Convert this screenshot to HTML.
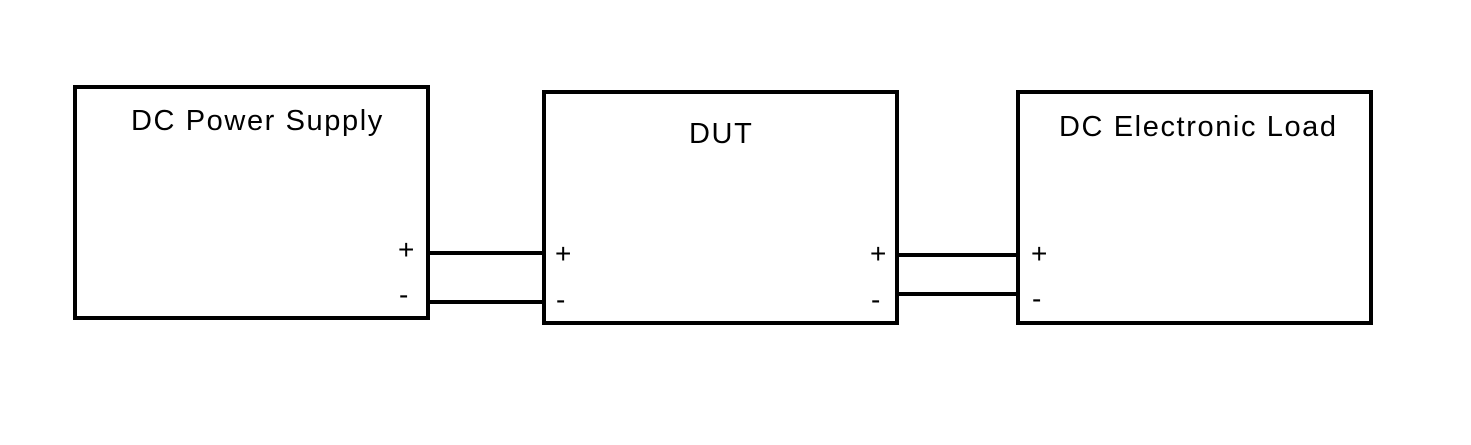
<!DOCTYPE html>
<html><head><style>
body{margin:0;background:#fff;}
.b{position:absolute;border:4px solid #000;box-sizing:border-box;background:#fff}
.t{position:absolute;font-family:"Liberation Sans",sans-serif;font-size:29px;letter-spacing:1.6px;color:#000;white-space:nowrap;line-height:1}
.s{position:absolute;font-family:"Liberation Sans",sans-serif;font-size:28px;color:#000;line-height:1}
.l{position:absolute;height:4px;background:#000}
</style></head><body>
<div style="position:relative;width:1471px;height:445px;overflow:hidden">
<div class="l" style="left:426px;top:251px;width:120px"></div>
<div class="l" style="left:426px;top:300px;width:120px"></div>
<div class="l" style="left:895px;top:253px;width:125px"></div>
<div class="l" style="left:895px;top:292px;width:125px"></div>
<div class="b" style="left:73px;top:85px;width:357px;height:235px"></div>
<div class="b" style="left:542px;top:90px;width:357px;height:235px"></div>
<div class="b" style="left:1016px;top:90px;width:357px;height:235px"></div>
<div class="t" style="left:131px;top:107px">DC Power Supply</div>
<div class="t" style="left:689px;top:120px">DUT</div>
<div class="t" style="left:1059px;top:113px">DC Electronic Load</div>
<div class="s" style="left:398px;top:236px">+</div>
<div class="s" style="left:399px;top:281px">-</div>
<div class="s" style="left:555px;top:240px">+</div>
<div class="s" style="left:556px;top:286px">-</div>
<div class="s" style="left:870px;top:240px">+</div>
<div class="s" style="left:871px;top:286px">-</div>
<div class="s" style="left:1031px;top:240px">+</div>
<div class="s" style="left:1032px;top:285px">-</div>
</div>
</body></html>
